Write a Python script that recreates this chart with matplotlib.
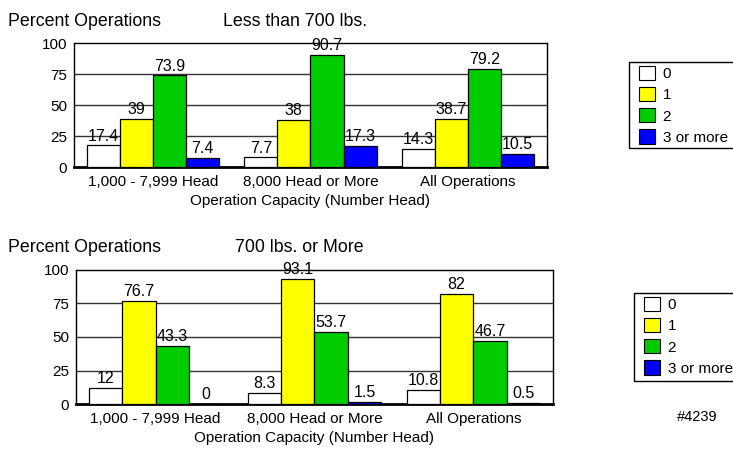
import matplotlib.pyplot as plt
import numpy as np
from matplotlib.patches import Patch, Rectangle

plt.rcParams['font.family'] = ['Liberation Sans', 'DejaVu Sans']

categories = ['1,000 - 7,999 Head', '8,000 Head or More', 'All Operations']
series_names = ['0', '1', '2', '3 or more']
colors = ['#FFFFFF', '#FFFF00', '#00CC00', '#0000FF']

# 体重 < 700 lbs
light = [
    [17.4, 7.7, 14.3],
    [39, 38, 38.7],
    [73.9, 90.7, 79.2],
    [7.4, 17.3, 10.5],
]
# 体重 >= 700 lbs
heavy = [
    [12, 8.3, 10.8],
    [76.7, 93.1, 82],
    [43.3, 53.7, 46.7],
    [0, 1.5, 0.5],
]
light_labels = [['17.4', '7.7', '14.3'], ['39', '38', '38.7'],
                ['73.9', '90.7', '79.2'], ['7.4', '17.3', '10.5']]
heavy_labels = [['12', '8.3', '10.8'], ['76.7', '93.1', '82'],
                ['43.3', '53.7', '46.7'], ['0', '1.5', '0.5']]

W, H = 733, 449
fig = plt.figure(figsize=(W / 100, H / 100), dpi=100)


def draw_panel(ax, data, labels):
    x = np.arange(len(categories))
    w = 0.21
    for i, (vals, lab) in enumerate(zip(data, labels)):
        pos = x + (i - 1.5) * w
        ax.bar(pos, vals, w, color=colors[i], edgecolor='black', linewidth=0.9, zorder=3)
        for p, v, t in zip(pos, vals, lab):
            ax.text(p, v + 1.5, t, ha='center', va='bottom', fontsize=11.5, zorder=4)
    ax.set_xlim(-0.5, 2.5)
    ax.set_ylim(0, 100)
    ax.set_yticks([0, 25, 50, 75, 100])
    ax.set_xticks(x)
    ax.set_xticklabels(categories)
    ax.tick_params(axis='both', length=0, labelsize=11)
    ax.tick_params(axis='y', pad=5)
    ax.tick_params(axis='x', pad=6)
    for y in [25, 50, 75]:
        ax.axhline(y, color='#333333', linewidth=1, zorder=1)
    for s in ['left', 'top', 'right']:
        ax.spines[s].set_linewidth(1)
    ax.spines['bottom'].set_linewidth(2)
    ax.set_xlabel('Operation Capacity (Number Head)', fontsize=11, labelpad=3)


ax1 = fig.add_axes([0.101, 0.628, 0.645, 0.276])
draw_panel(ax1, light, light_labels)
ax2 = fig.add_axes([0.104, 0.100, 0.650, 0.299])
draw_panel(ax2, heavy, heavy_labels)

fig.text(8 / W, 1 - 21 / H, 'Percent Operations', fontsize=12.8, va='center')
fig.text(223 / W, 1 - 21 / H, 'Less than 700 lbs.', fontsize=12.8, va='center')
fig.text(8 / W, 1 - 247 / H, 'Percent Operations', fontsize=12.8, va='center')
fig.text(235 / W, 1 - 247 / H, '700 lbs. or More', fontsize=12.8, va='center')

# 图例：外框单独画，右侧超出画布
handles = [Patch(facecolor=c, edgecolor='black', linewidth=0.8) for c in colors]
for (bx, by, bh) in [(629, 62, 86), (634, 293, 88)]:
    fig.add_artist(Rectangle((bx / W, 1 - (by + bh) / H), 120 / W, bh / H,
                             transform=fig.transFigure, facecolor='white',
                             edgecolor='black', linewidth=1, zorder=1))
    leg = fig.legend(handles, series_names, loc='upper left',
                     bbox_to_anchor=((bx + 7) / W, 1 - (by + 1) / H),
                     fontsize=11, frameon=False, handlelength=1.05,
                     handleheight=1.05, handletextpad=0.5, labelspacing=0.38,
                     borderpad=0.2, borderaxespad=0)
    leg.set_zorder(2)

fig.text(697 / W, 1 - 417 / H, '#4239', fontsize=10.5, ha='center', va='center')

fig.savefig('out.png', dpi=100)
